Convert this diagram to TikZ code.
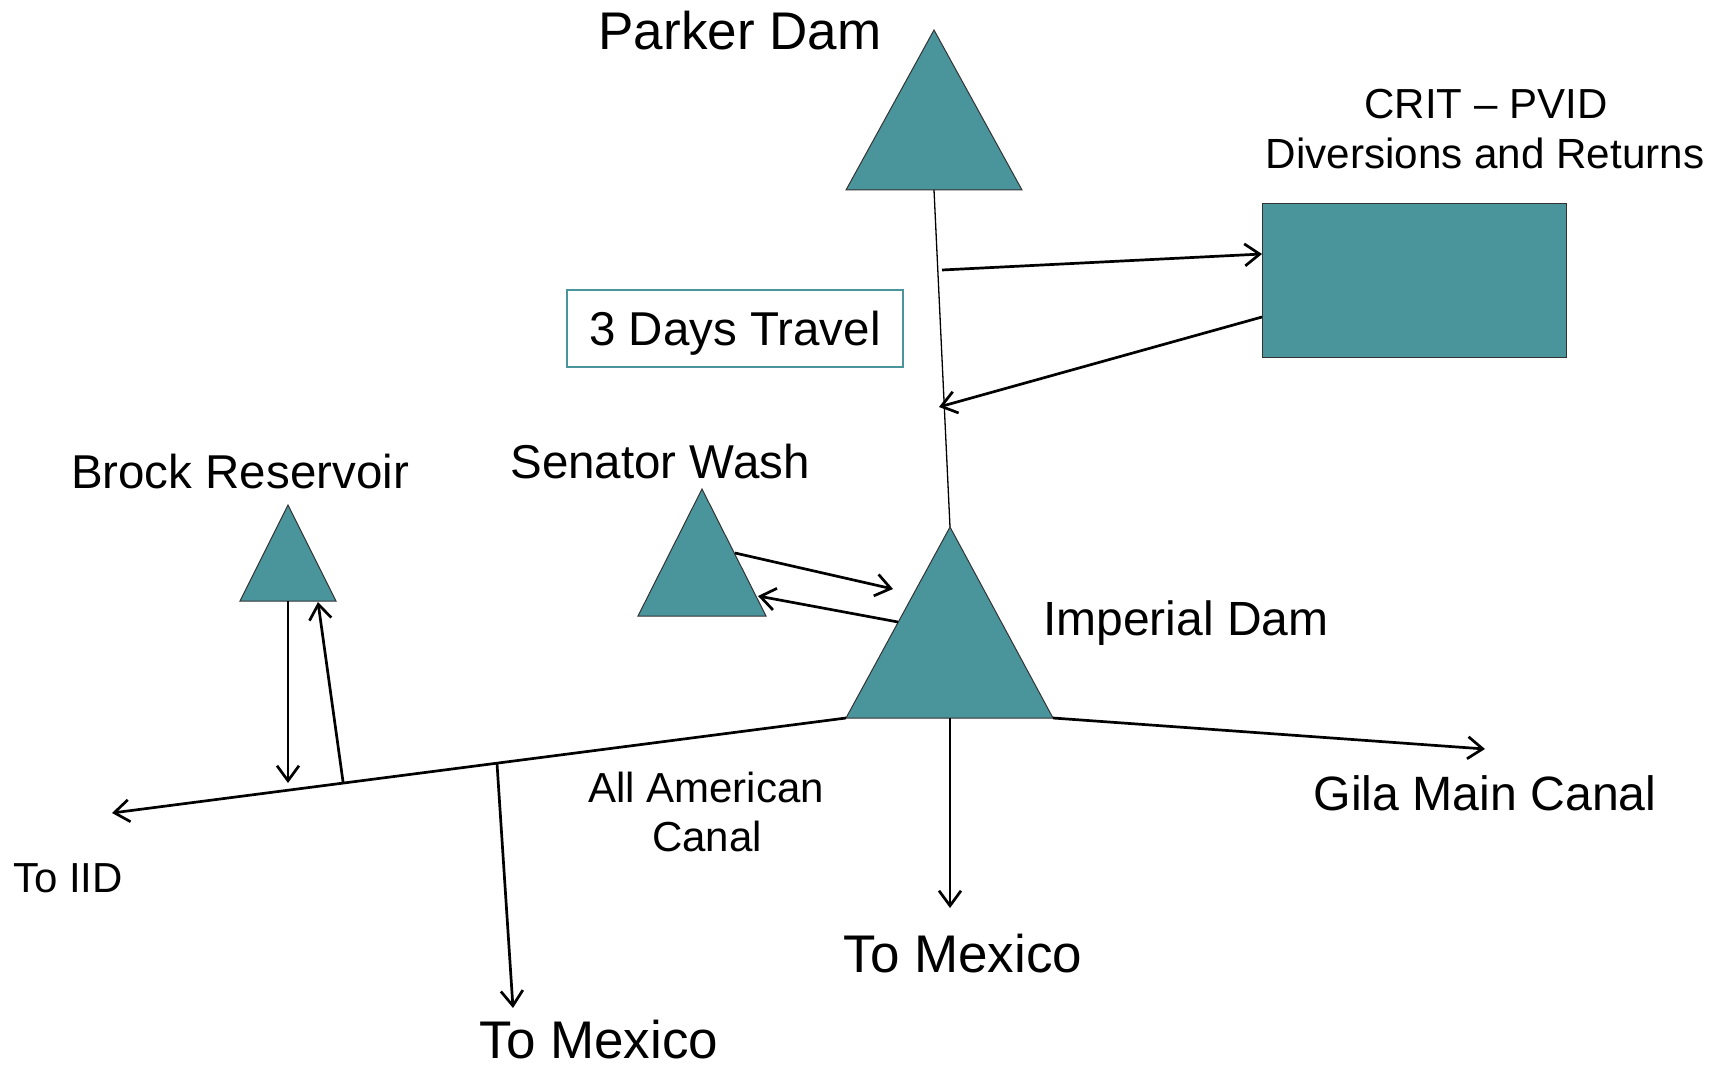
\documentclass[tikz,border=0pt]{standalone}
\usepackage{fontspec}
\setmainfont{Liberation Sans}
\usetikzlibrary{arrows.meta,calc}
\definecolor{damteal}{RGB}{74,148,155}
\newcommand{\fsz}[1]{\fontsize{#1}{#1}\selectfont}

\begin{document}
\begin{tikzpicture}[x=1pt,y=-1pt,
    dam/.style={fill=damteal,draw=black!80,line width=1pt},
    flow/.style={line width=2.7pt,-{Straight Barb[length=15pt,width=22pt]}},
    lbl/.style={anchor=base,inner sep=0pt}]
    \useasboundingbox (0,0) rectangle (1716,1067);

    % dams
    \coordinate (parkerTop) at (934,30); \coordinate (parkerL) at (846,190);
    \coordinate (parkerR) at (1022,190); \coordinate (parkerBase) at (934,190);
    \draw[dam] (parkerTop) -- (parkerL) -- (parkerR) -- cycle;
    \coordinate (impTop) at (950,527); \coordinate (impL) at (846,718);
    \coordinate (impR) at (1053,718); \coordinate (impBase) at (950,718);
    \draw[dam] (impTop) -- (impL) -- (impR) -- cycle;
    \coordinate (swTop) at (702,489); \coordinate (swL) at (638,616); \coordinate (swR) at (766,616);
    \draw[dam] (swTop) -- (swL) -- (swR) -- cycle;
    \coordinate (brockTop) at (288,505); \coordinate (brockL) at (240,601); \coordinate (brockR) at (336,601);
    \draw[dam] (brockTop) -- (brockL) -- (brockR) -- cycle;
    \node[fill=damteal,draw=black!80,line width=1pt,minimum width=304pt,minimum height=153pt,inner sep=0pt] (crit) at (1414,280.5) {};
    \node[draw=damteal,line width=2pt,minimum width=336pt,minimum height=77pt,inner sep=0pt,
          text height=38pt,text depth=5pt,font=\fsz{47.5}] (travel) at (735,328.5) {3 Days Travel};

    % labels
    \node[lbl,font=\fsz{53}] (parkerLbl) at (740,50) {Parker Dam};
    \node[lbl,font=\fsz{42}] (critLbl) at (1486,119) {CRIT – PVID};
    \node[lbl,font=\fsz{42.2}] (critLblB) at (1485,169) {Diversions and Returns};
    \node[lbl,font=\fsz{47.5}] (brockLbl) at (240,488) {Brock Reservoir};
    \node[lbl,font=\fsz{47.5}] (swLbl) at (660,478) {Senator Wash};
    \node[lbl,anchor=base west,font=\fsz{48}] (impLbl) at (1043,635) {Imperial Dam};
    \node[lbl,font=\fsz{48.2}] (gilaLbl) at (1485,810) {Gila Main Canal};
    \node[lbl,font=\fsz{42}] (aacLbl) at (706,802) {All American};
    \node[lbl,font=\fsz{42}] (aacLblB) at (707,851) {Canal};
    \node[lbl,anchor=base west,font=\fsz{42}] (iidLbl) at (13,892) {To IID};
    \node[lbl,font=\fsz{53}] (mexLbl) at (963,972) {To Mexico};
    \node[lbl,font=\fsz{53}] (mexLblB) at (599,1058) {To Mexico};

    % river and canals
    \coordinate (toIID) at (112,813); \coordinate (gilaEnd) at (1485,749);
    \coordinate (mexEnd) at (950,908); \coordinate (mexEndB) at (513,1008);
    \coordinate (mexTap) at ($(impL)!0.4755!(toIID)$);
    \coordinate (brockTap) at ($(impL)!0.685!(toIID)$);
    \coordinate (brockIn) at (288,783); \coordinate (brockOut) at (318,602);
    \coordinate (critIn) at (1262,254); \coordinate (critOut) at (1262,317);
    \coordinate (riverOut) at (942,270); \coordinate (riverIn) at (939,407);
    \coordinate (swOut) at (735,553); \coordinate (impIn) at (893,589);
    \coordinate (impOut) at (898,622); \coordinate (swIn) at (758,596);

    \draw[line width=1.3pt] (parkerBase) -- (impTop);
    \draw[flow] (riverOut) -- (critIn);
    \draw[flow] (critOut) -- (riverIn);
    \draw[flow] (swOut) -- (impIn);
    \draw[flow] (impOut) -- (swIn);
    \draw[flow] (impL) -- (toIID);
    \draw[flow] (impR) -- (gilaEnd);
    \draw[flow] (impBase) -- (mexEnd);
    \draw[flow] (mexTap) -- (mexEndB);
    \draw[flow] ($(brockL)!0.5!(brockR)$) -- (brockIn);
    \draw[flow] (brockTap) -- (brockOut);
\end{tikzpicture}
\end{document}
